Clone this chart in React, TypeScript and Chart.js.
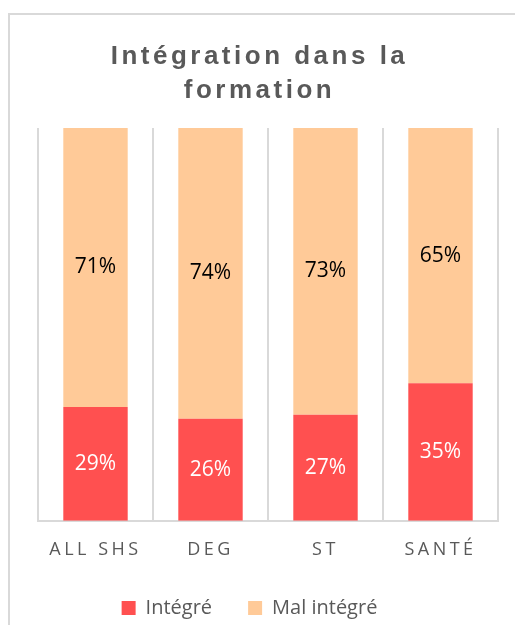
import React, { useEffect, useRef } from "react";
import { Chart, registerables } from "chart.js";

Chart.register(...registerables);

const categories = ["ALL SHS", "DEG", "ST", "SANTÉ"];
const integre = [29, 26, 27, 35];
const malIntegre = [71, 74, 73, 65];
const titleLines = ["Intégration dans la", "formation"];
const seriesNames = ["Intégré", "Mal intégré"];

const RED = "#FF5050";
const ORANGE = "#FFCA98";
const GRAY = "#595959";
const GRID = "#d9d9d9";

const spacingPlugin = {
  id: "spacing",
  beforeLayout(chart: any) {
    const lg = chart.legend;
    if (lg && !lg.__patched) {
      const of = lg.fit.bind(lg);
      lg.fit = () => {
        of();
        lg.height -= 12;
      };
      lg.__patched = true;
    }
  },
  afterLayout(chart: any) {
    const lg = chart.legend;
    if (lg) {
      lg.top -= 17;
      lg.left -= 10;
      lg.right -= 10;
    }
  },
  beforeDraw(chart: any) {
    const ctx = chart.ctx;
    const xs = chart.scales.x;
    if (xs && !xs.__patched) {
      const orig = xs.drawLabels.bind(xs);
      xs.drawLabels = (a: any) => {
        ctx.save();
        (ctx as any).letterSpacing = "3.5px";
        orig(a);
        ctx.restore();
      };
      xs.__patched = true;
    }
    const tb = chart.titleBlock;
    if (tb && !tb.__patched) {
      const origT = tb.draw.bind(tb);
      tb.draw = (a: any) => {
        ctx.save();
        (ctx as any).letterSpacing = "3.5px";
        origT(a);
        ctx.restore();
      };
      tb.__patched = true;
    }
  },
};

const labelPlugin = {
  id: "segLabels",
  afterDatasetsDraw(chart: any) {
    const ctx = chart.ctx;
    chart.data.datasets.forEach((ds: any, di: number) => {
      const meta = chart.getDatasetMeta(di);
      meta.data.forEach((el: any, i: number) => {
        const { x, y, base } = el.getProps(["x", "y", "base"], true);
        ctx.save();
        ctx.font = '21px "Open Sans", sans-serif';
        ctx.fillStyle = di === 0 ? "#ffffff" : "#000000";
        ctx.textAlign = "center";
        ctx.textBaseline = "middle";
        ctx.fillText(ds.data[i] + "%", x, (y + base) / 2);
        ctx.restore();
      });
    });
  },
};

export default function App() {
  const ref = useRef<HTMLCanvasElement>(null);
  useEffect(() => {
    if (!ref.current) return;
    const chart = new Chart(ref.current, {
      type: "bar",
      data: {
        labels: categories,
        datasets: [
          { label: seriesNames[0], data: integre, backgroundColor: RED, borderWidth: 0, barPercentage: 0.56, categoryPercentage: 1 },
          { label: seriesNames[1], data: malIntegre, backgroundColor: ORANGE, borderWidth: 0, barPercentage: 0.56, categoryPercentage: 1 },
        ],
      },
      options: {
        responsive: false,
        animation: false,
        layout: { padding: { left: 11, right: 25, top: 0, bottom: 0 } },
        plugins: {
          title: {
            display: true,
            text: titleLines,
            color: GRAY,
            font: { family: '"Liberation Sans", Arial, sans-serif', size: 26, weight: "bold", lineHeight: 34 / 26 },
            padding: { top: 25, bottom: 20 },
          },
          legend: {
            position: "bottom",
            labels: {
              boxWidth: 14,
              boxHeight: 14,
              padding: 36,
              color: GRAY,
              font: { family: '"Open Sans", sans-serif', size: 20 },
            },
          },
          tooltip: { enabled: false },
        },
        scales: {
          x: {
            stacked: true,
            grid: { display: true, offset: true, color: GRID, lineWidth: 2, drawTicks: false },
            border: { display: true, color: GRID, width: 2 },
            ticks: { color: GRAY, font: { family: '"Open Sans", sans-serif', size: 18, lineHeight: 0.4 }, padding: 25.5 },
          },
          y: {
            stacked: true,
            display: true,
            min: 0,
            max: 100,
            grid: { display: false },
            border: { display: false },
            ticks: { display: false },
            afterFit(scale: any) {
              scale.width = 17;
            },
          },
        },
      },
      plugins: [spacingPlugin, labelPlugin],
    });
    return () => chart.destroy();
  }, []);
  return (
    <div style={{ width: 515, height: 617, overflow: "hidden" }}>
      <div style={{ marginTop: 5, width: 513, height: 640, border: `2px solid ${GRID}` }}>
        <canvas ref={ref} width={513} height={618} style={{ display: "block" }} />
      </div>
    </div>
  );
}
